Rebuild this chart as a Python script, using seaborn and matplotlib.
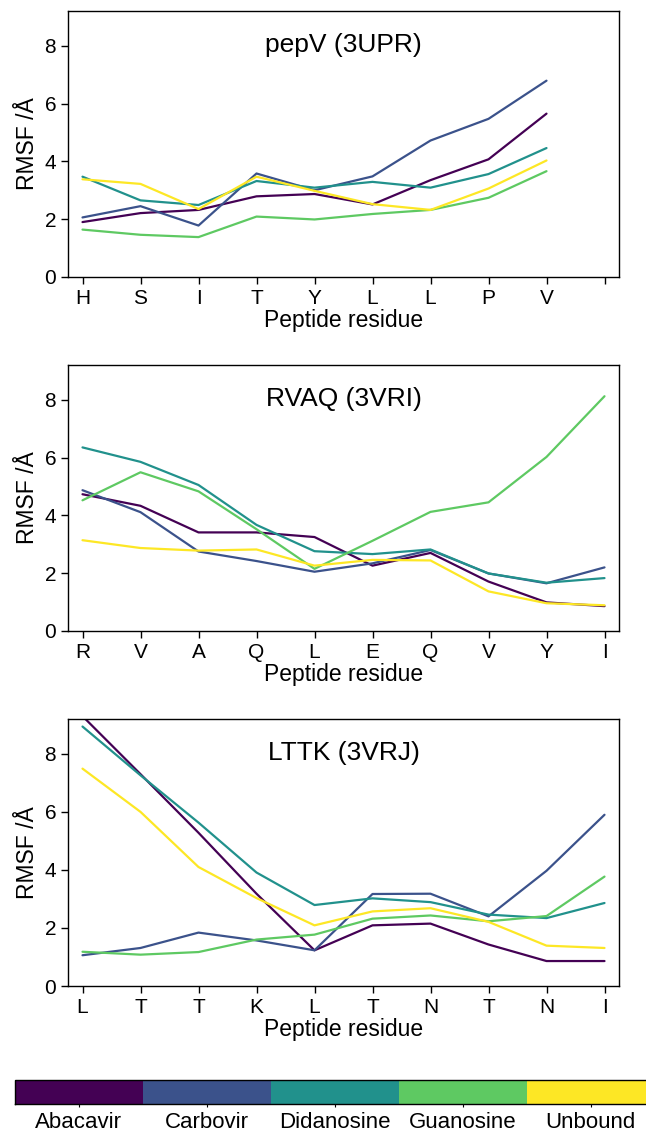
import numpy as np
import pandas as pd
import seaborn as sns
import matplotlib.pyplot as plt
from matplotlib.colors import ListedColormap, BoundaryNorm
from matplotlib.colorbar import ColorbarBase

# ligands and their colours (viridis, 5 steps)
ligands = ["Abacavir", "Carbovir", "Didanosine", "Guanosine", "Unbound"]
colors = ["#440154", "#3b528b", "#21918c", "#5ec962", "#fde725"]

# pepV (3UPR)
pepv_res = ["H", "S", "I", "T", "Y", "L", "L", "P", "V", ""]
pepv = {
    "Abacavir":   [1.90, 2.21, 2.32, 2.79, 2.87, 2.51, 3.35, 4.07, 5.65],
    "Carbovir":   [2.06, 2.45, 1.78, 3.58, 3.00, 3.48, 4.72, 5.47, 6.79],
    "Didanosine": [3.47, 2.65, 2.49, 3.32, 3.09, 3.29, 3.09, 3.56, 4.46],
    "Guanosine":  [1.64, 1.46, 1.38, 2.09, 1.99, 2.18, 2.32, 2.74, 3.66],
    "Unbound":    [3.38, 3.22, 2.35, 3.47, 2.98, 2.52, 2.32, 3.06, 4.03],
}

# RVAQ (3VRI)
rvaq_res = ["R", "V", "A", "Q", "L", "E", "Q", "V", "Y", "I"]
rvaq = {
    "Abacavir":   [4.73, 4.33, 3.41, 3.41, 3.25, 2.26, 2.70, 1.71, 0.99, 0.86],
    "Carbovir":   [4.87, 4.11, 2.75, 2.42, 2.05, 2.34, 2.80, 1.99, 1.65, 2.20],
    "Didanosine": [6.35, 5.85, 5.05, 3.67, 2.76, 2.66, 2.82, 1.99, 1.67, 1.83],
    "Guanosine":  [4.52, 5.49, 4.83, 3.52, 2.15, 3.12, 4.12, 4.45, 6.02, 8.12],
    "Unbound":    [3.14, 2.87, 2.78, 2.82, 2.26, 2.46, 2.44, 1.37, 0.96, 0.89],
}

# LTTK (3VRJ)
lttk_res = ["L", "T", "T", "K", "L", "T", "N", "T", "N", "I"]
lttk = {
    "Abacavir":   [9.30, 7.30, 5.28, 3.18, 1.23, 2.09, 2.15, 1.43, 0.86, 0.86],
    "Carbovir":   [1.06, 1.31, 1.84, 1.57, 1.23, 3.17, 3.18, 2.40, 3.97, 5.90],
    "Didanosine": [8.94, 7.26, 5.63, 3.91, 2.79, 3.02, 2.89, 2.46, 2.34, 2.86],
    "Guanosine":  [1.18, 1.08, 1.17, 1.60, 1.77, 2.32, 2.43, 2.23, 2.41, 3.77],
    "Unbound":    [7.49, 6.00, 4.10, 3.03, 2.09, 2.57, 2.68, 2.21, 1.39, 1.31],
}

panels = [("pepV (3UPR)", pepv_res, pepv),
          ("RVAQ (3VRI)", rvaq_res, rvaq),
          ("LTTK (3VRJ)", lttk_res, lttk)]

sns.set_style("ticks")
plt.rcParams["font.family"] = ["Liberation Sans", "DejaVu Sans"]
for k in ["text.color", "axes.labelcolor", "xtick.color", "ytick.color", "axes.edgecolor"]:
    plt.rcParams[k] = "black"

fig = plt.figure(figsize=(6.46, 11.32), dpi=100)
W, H = 646, 1132
boxes = [(11, 277), (365, 631), (719, 986)]
left, right = 68, 619

for (title, res, vals), (top, bot) in zip(panels, boxes):
    ax = fig.add_axes([left / W, 1 - bot / H, (right - left) / W, (bot - top) / H])
    rows = []
    for lig in ligands:
        for i, v in enumerate(vals[lig]):
            rows.append({"pos": i, "rmsf": v, "ligand": lig})
    df = pd.DataFrame(rows)
    sns.lineplot(data=df, x="pos", y="rmsf", hue="ligand", hue_order=ligands,
                 palette=colors, linewidth=1.6, legend=False, ax=ax)
    ax.set_xlim(-0.25, 9.25)
    ax.set_ylim(0, 9.2)
    ax.set_xticks(range(10))
    ax.set_xticklabels(res)
    ax.set_yticks([0, 2, 4, 6, 8])
    ax.tick_params(labelsize=15, length=5, width=1, color="black")
    ax.set_xlabel("Peptide residue", fontsize=16.5, labelpad=1)
    ax.set_ylabel("RMSF /Å", fontsize=16.5, labelpad=4)
    for s in ax.spines.values():
        s.set_color("black")
        s.set_linewidth(1)
    ax.text(0.5, 1 - 41 / 266, title, transform=ax.transAxes, ha="center",
            va="baseline", fontsize=19)

# discrete colour bar at bottom
cax = fig.add_axes([14.5 / W, 1 - 1104 / H, 640 / W, 24 / H])
cmap = ListedColormap(colors)
norm = BoundaryNorm(np.arange(-0.5, 5.5, 1), cmap.N)
cb = ColorbarBase(cax, cmap=cmap, norm=norm, orientation="horizontal")
cb.set_ticks(range(5))
cb.set_ticklabels(ligands)
cb.minorticks_off()
cax.tick_params(which="minor", length=0)
cax.tick_params(labelsize=16, length=4, direction="inout", pad=4)
cb.outline.set_linewidth(1)

fig.savefig("out.png", dpi=100)
